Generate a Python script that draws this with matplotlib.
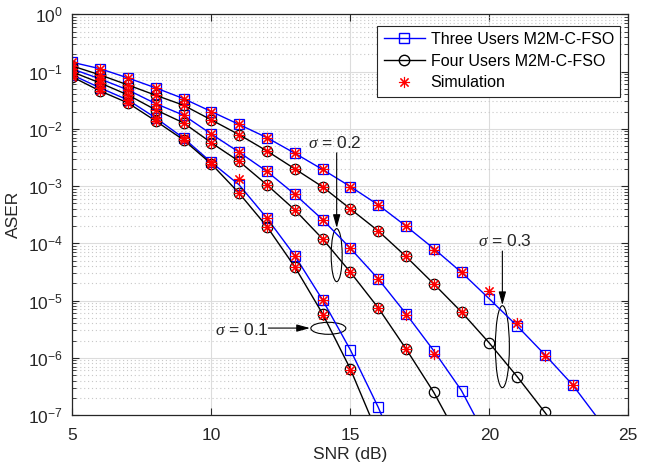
import numpy as np
import matplotlib.pyplot as plt
import matplotlib.transforms as mtransforms
from matplotlib.patches import Ellipse
from matplotlib.ticker import LogLocator, NullFormatter, FixedLocator

plt.rcParams['font.family'] = 'Liberation Sans'
plt.rcParams['mathtext.fontset'] = 'custom'
plt.rcParams['mathtext.rm'] = 'Liberation Sans'
plt.rcParams['mathtext.it'] = 'Liberation Serif:italic'

# SNR grid (dB)
snr = np.arange(5, 25)

# theory, three users (blue squares) / four users (black circles)
three_s03 = [0.145, 0.112, 0.0773, 0.0518, 0.0337, 0.0200, 0.0119, 7.0e-3, 3.75e-3, 1.95e-3,
             9.8e-4, 4.7e-4, 2.0e-4, 8.1e-5, 3.1e-5, 1.07e-5, 3.6e-6, 1.13e-6, 3.35e-7, 7.6e-8]
four_s03 = [0.125, 0.0873, 0.0583, 0.0385, 0.0258, 0.0143, 7.9e-3, 4.1e-3, 2.0e-3, 9.7e-4,
            4.0e-4, 1.65e-4, 5.9e-5, 1.96e-5, 6.3e-6, 1.81e-6, 4.7e-7, 1.11e-7, 2.5e-8]
three_s02 = [0.111, 0.0743, 0.0478, 0.0275, 0.0173, 8.1e-3, 3.9e-3, 1.8e-3, 7.2e-4, 2.6e-4,
             8.2e-5, 2.4e-5, 5.9e-6, 1.33e-6, 2.67e-7, 3.2e-8]
four_s02 = [0.0984, 0.0632, 0.0391, 0.0214, 0.0127, 5.7e-3, 2.7e-3, 1.05e-3, 3.85e-4, 1.2e-4,
            3.14e-5, 7.5e-6, 1.44e-6, 2.5e-7, 3.2e-8]
three_s01 = [0.0873, 0.0518, 0.0319, 0.0155, 6.9e-3, 2.6e-3, 1.05e-3, 2.75e-4, 6.1e-5, 1.03e-5,
             1.38e-6, 1.38e-7, 1e-8]
four_s01 = [0.0805, 0.0458, 0.0283, 0.0137, 6.4e-3, 2.44e-3, 7.5e-4, 1.96e-4, 3.9e-5, 5.9e-6,
            6.4e-7, 4.5e-8]

# simulation points (red asterisks)
sim_three_s03 = [0.145, 0.112, 0.0773, 0.0518, 0.0337, 0.0200, 0.0119, 7.0e-3, 3.75e-3, 1.95e-3,
                 9.8e-4, 4.7e-4, 2.0e-4, 7.6e-5, 3.1e-5, 1.45e-5, 4.1e-6, 1.06e-6, 3.3e-7]
sim_four_s03 = [0.125, 0.0873, 0.0583, 0.0385, 0.0258, 0.0143, 7.9e-3, 4.1e-3, 2.0e-3, 9.7e-4,
                4.0e-4, 1.65e-4, 5.9e-5, 1.96e-5, 6.3e-6]
sim_three_s02 = [0.111, 0.0743, 0.0478, 0.0275, 0.0173, 8.1e-3, 3.9e-3, 1.8e-3, 7.2e-4, 2.6e-4,
                 8.2e-5, 2.4e-5, 5.6e-6, 1.18e-6]
sim_four_s02 = [0.0984, 0.0632, 0.0391, 0.0214, 0.0127, 5.7e-3, 2.7e-3, 1.05e-3, 3.85e-4, 1.2e-4,
                3.14e-5, 7.5e-6, 1.44e-6]
sim_three_s01 = [0.0873, 0.0518, 0.0319, 0.0155, 6.9e-3, 2.6e-3, 1.34e-3, 2.75e-4, 6.1e-5, 1.03e-5]
sim_four_s01 = [0.0805, 0.0458, 0.0283, 0.0137, 6.4e-3, 2.44e-3, 7.5e-4, 1.96e-4, 3.9e-5, 5.6e-6,
                6.2e-7]

yticks = [1e-7, 1e-6, 1e-5, 1e-4, 1e-3, 1e-2, 1e-1, 1e0]
xticks = [5, 10, 15, 20, 25]

fig = plt.figure(figsize=(6.51, 4.67), dpi=100)
ax = fig.add_axes([72.3 / 651, 1 - 415 / 467, (628.3 - 72.3) / 651, (415 - 14.3) / 467])

for y in [three_s03, three_s02, three_s01]:
    ax.plot(snr[:len(y)], y, color='b', lw=1.0, marker='s', ms=6.5, mfc='none', mec='b', mew=0.9)
for y in [four_s03, four_s02, four_s01]:
    ax.plot(snr[:len(y)], y, color='k', lw=1.0, marker='o', ms=7.5, mfc='none', mec='k', mew=0.9)
for y in [sim_three_s03, sim_four_s03, sim_three_s02, sim_four_s02, sim_three_s01, sim_four_s01]:
    ax.plot(snr[:len(y)], y, ls='none', marker=(8, 2, 0), ms=8, mec='r', mew=0.8)

ax.set_yscale('log')
ax.set_xlim(5, 25)
ax.set_ylim(1e-7, 1)
ax.xaxis.set_major_locator(FixedLocator(xticks))
ax.yaxis.set_major_locator(FixedLocator(yticks))
ax.yaxis.set_minor_locator(LogLocator(base=10, subs=np.arange(2, 10), numticks=20))
ax.yaxis.set_minor_formatter(NullFormatter())

ax.grid(True, which='major', color='#dcdcdc', lw=0.8, ls='-')
ax.grid(True, which='minor', axis='y', color='#c8c8c8', lw=0.8, ls=(0, (1, 2.5)))
ax.set_axisbelow(True)
ax.tick_params(which='both', direction='in', top=True, right=True, labelsize=12.5,
               colors='#262626', labelcolor='#262626')
ax.tick_params(which='major', length=5, width=0.8)
ax.tick_params(axis='x', which='major', pad=9)
ax.tick_params(axis='y', which='major', pad=7)
ax.tick_params(which='minor', length=3, width=0.6)
for s in ax.spines.values():
    s.set_color('#262626')
    s.set_linewidth(0.9)

ax.set_xlabel('SNR (dB)', fontsize=12.5, color='#262626', labelpad=3)
ax.set_ylabel('ASER', fontsize=12.5, color='#262626', labelpad=5)

# legend
ax.plot([], [], color='b', lw=1.0, marker='s', ms=6.5, mfc='none', mec='b', label='Three Users M2M-C-FSO')
ax.plot([], [], color='k', lw=1.0, marker='o', ms=7.5, mfc='none', mec='k', label='Four Users M2M-C-FSO')
ax.plot([], [], ls='none', marker=(8, 2, 0), ms=8, mec='r', mew=0.8, label='Simulation')
h, l = ax.get_legend_handles_labels()
leg = ax.legend(h[-3:], l[-3:], loc='upper right', bbox_to_anchor=(620 / 651, 1 - 26 / 467),
                bbox_transform=fig.transFigure, borderaxespad=0, fancybox=False, framealpha=1,
                edgecolor='#262626', fontsize=11.5, handlelength=2.6, handletextpad=0.35,
                labelspacing=0.42, borderpad=0.38)
leg.get_frame().set_linewidth(0.8)

# annotations: sigma labels, arrows, ellipses
def ellipse(x, y, w_px, h_px):
    tr = fig.dpi_scale_trans + mtransforms.ScaledTranslation(x, y, ax.transData)
    ax.add_patch(Ellipse((0, 0), w_px / 100, h_px / 100, transform=tr, fill=False,
                         ec='k', lw=0.8, clip_on=False))

arrow = dict(arrowstyle='-|>,head_length=0.8,head_width=0.22', color='k', lw=0.8,
             shrinkA=0, shrinkB=0)
ax.text(14.45, 5.6e-3, r'$\sigma$ = 0.2', fontsize=12.5, ha='center', va='center', color='#262626')
ax.annotate('', xy=(14.51, 1.85e-4), xytext=(14.51, 3.8e-3), arrowprops=arrow)
ellipse(14.51, 6.2e-5, 11, 53)

ax.text(20.56, 1.1e-4, r'$\sigma$ = 0.3', fontsize=12.5, ha='center', va='center', color='#262626')
ax.annotate('', xy=(20.47, 8.3e-6), xytext=(20.47, 7.3e-5), arrowprops=arrow)
ellipse(20.47, 1.56e-6, 14, 82)

ax.text(11.1, 3.05e-6, r'$\sigma$ = 0.1', fontsize=12.5, ha='center', va='center', color='#262626')
ax.annotate('', xy=(13.55, 3.3e-6), xytext=(12.05, 3.3e-6), arrowprops=arrow)
ellipse(14.21, 3.27e-6, 35, 12)

fig.savefig('out.png', dpi=100)
